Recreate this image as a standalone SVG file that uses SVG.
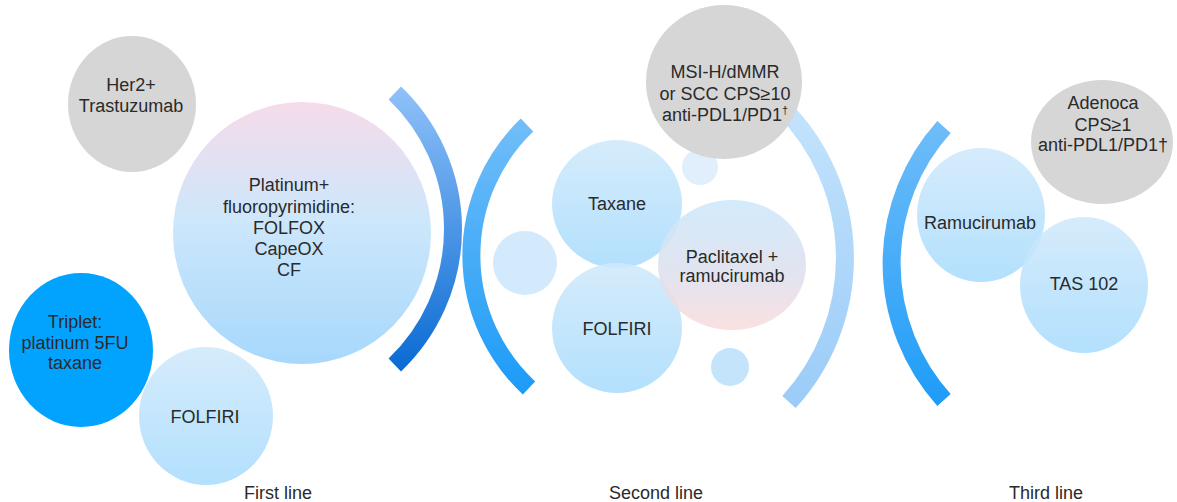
<svg xmlns="http://www.w3.org/2000/svg" width="1177" height="502" viewBox="0 0 1177 502">
<style>
text{font-family:"Liberation Sans",Arial,Helvetica,sans-serif;font-size:18px;fill:#2a2a2a;text-anchor:middle}
.gray{fill:#d6d6d6}
.lb{fill:url(#gLB);opacity:0.88}
.arc{fill:none;stroke-width:18}
</style>
<defs>
<linearGradient id="gLB" x1="0" y1="0" x2="0" y2="1">
<stop offset="0" stop-color="#d0e9fb"/><stop offset="1" stop-color="#a8dcfd"/>
</linearGradient>
<linearGradient id="gBig" x1="0" y1="0" x2="0" y2="1">
<stop offset="0" stop-color="#f6dbea"/><stop offset="0.45" stop-color="#cde7fb"/><stop offset="1" stop-color="#a6d8fc"/>
</linearGradient>
<linearGradient id="gPac" x1="0" y1="0" x2="0" y2="1">
<stop offset="0" stop-color="#cde8fb"/><stop offset="0.55" stop-color="#dde0ee"/><stop offset="1" stop-color="#f9dcdc"/>
</linearGradient>
<linearGradient id="gA1" gradientUnits="userSpaceOnUse" x1="0" y1="85" x2="0" y2="375">
<stop offset="0" stop-color="#90c2f9"/><stop offset="1" stop-color="#0869d2"/>
</linearGradient>
<linearGradient id="gA2" gradientUnits="userSpaceOnUse" x1="0" y1="118" x2="0" y2="395">
<stop offset="0" stop-color="#72bef9"/><stop offset="1" stop-color="#1b9bf7"/>
</linearGradient>
<linearGradient id="gA3" gradientUnits="userSpaceOnUse" x1="0" y1="110" x2="0" y2="410">
<stop offset="0" stop-color="#c3e3fc"/><stop offset="1" stop-color="#9acbf8"/>
</linearGradient>
<linearGradient id="gA4" gradientUnits="userSpaceOnUse" x1="0" y1="120" x2="0" y2="408">
<stop offset="0" stop-color="#70bdf9"/><stop offset="1" stop-color="#1d9cf8"/>
</linearGradient>
</defs>

<g id="connectors">
<path class="arc" stroke="url(#gA1)" d="M 394.8 93 A 188 188 0 0 1 394.8 365"/>
<path class="arc" stroke="url(#gA2)" d="M 527 125 A 181 181 0 0 0 529 388"/>
<path class="arc" stroke="url(#gA3)" d="M 783 108 A 213 213 0 0 1 789 402"/>
<path class="arc" stroke="url(#gA4)" d="M 944 127 A 204 204 0 0 0 944 400"/>
</g>

<g id="her2">
<ellipse class="gray" cx="132" cy="104" rx="64" ry="68"/>
<text x="131" y="91">Her2+</text>
<text x="131" y="112">Trastuzumab</text>
</g>

<g id="platinum">
<ellipse fill="url(#gBig)" cx="302" cy="233" rx="129" ry="131"/>
<text x="289" y="191">Platinum+</text>
<text x="289" y="213">fluoropyrimidine:</text>
<text x="289" y="234">FOLFOX</text>
<text x="289" y="255">CapeOX</text>
<text x="289" y="276">CF</text>
</g>

<g id="triplet">
<ellipse fill="#02a3fe" cx="81" cy="350" rx="72" ry="77"/>
<text x="75" y="328">Triplet:</text>
<text x="75" y="349">platinum 5FU</text>
<text x="75" y="369">taxane</text>
</g>

<g id="folfiri1">
<ellipse class="lb" cx="206" cy="416" rx="67" ry="69"/>
<text x="205" y="423">FOLFIRI</text>
</g>

<g id="small-left">
<circle fill="#d3e9fc" cx="525" cy="263" r="32"/>
</g>

<g id="small-top">
<circle fill="#e1effd" cx="700" cy="167" r="18"/>
</g>

<g id="msi">
<ellipse class="gray" cx="724" cy="82" rx="78" ry="77"/>
<text x="725" y="78">MSI-H/dMMR</text>
<text x="725" y="100">or SCC CPS≥10</text>
<text x="725" y="121">anti-PDL1/PD1<tspan font-size="11" dy="-7">†</tspan></text>
</g>

<g id="taxane">
<ellipse class="lb" cx="617" cy="204" rx="65" ry="64"/>
<text x="617" y="210">Taxane</text>
</g>

<g id="folfiri2">
<ellipse class="lb" cx="617" cy="328" rx="65" ry="65"/>
<text x="617" y="335">FOLFIRI</text>
</g>

<g id="paclitaxel">
<ellipse fill="url(#gPac)" opacity="0.88" cx="732" cy="265" rx="74" ry="65"/>
<text x="732" y="263">Paclitaxel +</text>
<text x="732" y="282">ramucirumab</text>
</g>

<g id="small-bottom">
<circle fill="#c4e4fc" cx="730" cy="367" r="19"/>
</g>

<g id="adenoca">
<ellipse class="gray" cx="1102" cy="142" rx="71" ry="62"/>
<text x="1103" y="109">Adenoca</text>
<text x="1103" y="131">CPS≥1</text>
<text x="1103" y="151">anti-PDL1/PD1†</text>
</g>

<g id="ramucirumab">
<ellipse class="lb" cx="981" cy="215" rx="64" ry="67"/>
<text x="980" y="229">Ramucirumab</text>
</g>

<g id="tas102">
<ellipse class="lb" cx="1084" cy="285" rx="64" ry="68"/>
<text x="1084" y="290">TAS 102</text>
</g>

<g id="labels">
<text x="278" y="499">First line</text>
<text x="656" y="499">Second line</text>
<text x="1046" y="499">Third line</text>
</g>
</svg>
